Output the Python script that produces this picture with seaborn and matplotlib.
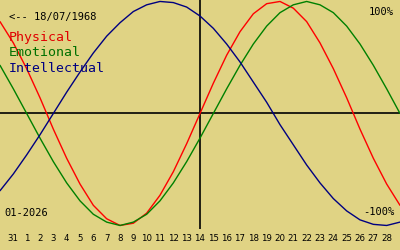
import matplotlib
matplotlib.use("Agg")
import matplotlib.pyplot as plt
import seaborn as sns
import pandas as pd

# day index: -1 = 30 Dec, 0 = 31 Dec, 1..28 = January 2026, 29 = 29 Jan
days = list(range(-1, 30))
physical = [82, 63, 40, 14, -14, -40, -63, -82, -94, -100, -98, -89, -73, -52, -27, 0,
            27, 52, 73, 89, 98, 100, 94, 82, 63, 40, 14, -14, -40, -63, -82]
emotional = [43, 22, 0, -22, -43, -62, -78, -90, -97, -100, -97, -90, -78, -62, -43, -22,
             0, 22, 43, 62, 78, 90, 97, 100, 97, 90, 78, 62, 43, 22, 0]
intellectual = [-69, -54, -37, -19, 0, 19, 37, 54, 69, 81, 91, 97, 100, 99, 95, 87,
                76, 62, 46, 28, 10, -10, -28, -46, -62, -76, -87, -95, -99, -100, -97]
tick_days = list(range(0, 29))
tick_labels = ["31"] + [str(d) for d in range(1, 29)]
series_names = ["Physical", "Emotional", "Intellectual"]
series_colors = ["#ff0000", "#008000", "#000080"]
birth_label = "<-- 18/07/1968"
month_label = "01-2026"

BG = "#e0d384"
sns.set_style("white", {"axes.facecolor": BG, "figure.facecolor": BG})
plt.rcParams["font.family"] = ["DejaVu Sans Mono", "DejaVu Sans"]

df = pd.DataFrame({
    "day": days * 3,
    "value": physical + emotional + intellectual,
    "series": sum([[n] * len(days) for n in series_names], []),
})

fig = plt.figure(figsize=(4, 2.5), dpi=100)
ax = fig.add_axes([0, 0, 1, 1])
ax.set_facecolor(BG)

sns.lineplot(data=df, x="day", y="value", hue="series", palette=dict(zip(series_names, series_colors)),
             linewidth=1.0, legend=False, ax=ax, estimator=None, sort=True)

ax.axhline(0, color="black", lw=1.2, zorder=1)
ax.vlines(14, -103, 102, color="black", lw=1.2, zorder=1)

ax.set_xlim(-1, 29)
ax.set_ylim(-121.9, 101.3)

for s in ["top", "right", "left", "bottom"]:
    ax.spines[s].set_visible(False)
ax.spines["bottom"].set_position(("data", -105.5))
ax.set_yticks([])
ax.set_xticks(tick_days)
ax.set_xticklabels(tick_labels, fontsize=6.2, family="DejaVu Sans")
ax.tick_params(axis="x", direction="in", length=4.3, width=1, color="black", pad=1.5,
               labelcolor="black")
ax.set_xlabel("")
ax.set_ylabel("")

def ftext(x, y, s, **kw):
    fig.text(x / 400, 1 - y / 250, s, va="center", **kw)

ftext(9, 17, birth_label, fontsize=7.5, color="black")
text_colors = ["#e00000", "#007000", "#000080"]
for i, (n, c) in enumerate(zip(series_names, text_colors)):
    ftext(9, 38 + 15 * i, n, fontsize=9.5, color=c)
ftext(394, 12, "100%", fontsize=7.5, color="black", ha="right")
ftext(394, 212, "-100%", fontsize=7.5, color="black", ha="right")
ftext(4, 213, month_label, fontsize=7.5, color="black")

fig.savefig("out.png", dpi=100, facecolor=BG)
